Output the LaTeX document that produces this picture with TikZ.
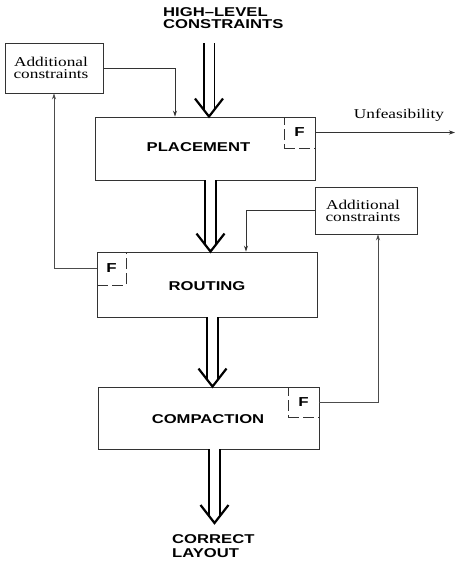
\documentclass[tikz,border=0pt]{standalone}
\usepackage{fontspec}
\newfontfamily\hbfont{Liberation Sans}[FakeStretch=1.3]
\newfontfamily\srfont{Liberation Serif}[FakeStretch=1.28]
\usetikzlibrary{arrows.meta}
\newcommand\dblarrow[2]{%
  \draw[dblshaft] (#1) -- ([yshift=7pt]#2);
  \draw[vtip] ([xshift=-14pt,yshift=18pt]#2) -- (#2) -- ([xshift=14pt,yshift=18pt]#2);}
\tikzset{
  box/.style={draw=black!80, line width=0.9pt, inner sep=0pt},
  fbox/.style={draw=black!80, line width=0.9pt, dash pattern=on 11pt off 4pt, inner sep=0pt,
    font=\hbfont\bfseries\fontsize{13}{13}\selectfont},
  bigtxt/.style={font=\hbfont\bfseries\fontsize{12.8}{12.5}\selectfont, inner sep=0pt},
  smalltxt/.style={font=\srfont\fontsize{13.5}{13}\selectfont, align=center, inner sep=0pt},
  conn/.style={draw=black!80, line width=0.9pt, -{Stealth[length=6pt,width=4pt]}},
  fback/.style={draw=black!70, line width=0.7pt, -{Stealth[length=6pt,width=4pt]}},
  dblshaft/.style={draw=black, double=white, double distance=9pt, line width=1.8pt},
  vtip/.style={draw=black, line width=2.2pt, line join=miter, line cap=butt},
}
\begin{document}
\begin{tikzpicture}[x=1pt,y=-1pt]
\useasboundingbox (0,0) rectangle (456,563);
% boxes
\node[box, minimum width=220pt, minimum height=63pt] (pl) at (205,148.5) {};
\node[box, minimum width=220pt, minimum height=65pt] (rt) at (207,284.5) {};
\node[box, minimum width=221pt, minimum height=62pt] (cp) at (208.5,418) {};
\node[box, minimum width=98pt, minimum height=50pt] (la) at (54,68) {};
\node[box, minimum width=102pt, minimum height=47pt] (ra) at (366,210.5) {};
% box texts
\node[smalltxt] (lat) at (51,68) {Additional\\[-1pt]constraints};
\node[smalltxt] (rat) at (363,210.5) {Additional\\[-1pt]constraints};
\node[bigtxt, anchor=base] (plt) at (198.5,151) {PLACEMENT};
\node[bigtxt, anchor=base] (rtt) at (207,290) {ROUTING};
\node[bigtxt, anchor=base] (cpt) at (208,423) {COMPACTION};
% F boxes
\node[fbox, anchor=north east, minimum width=31pt, minimum height=31pt] (plF) at (pl.north east) {F};
\node[fbox, anchor=north west, minimum width=29pt, minimum height=33pt] (rtF) at (rt.north west) {F};
\node[fbox, anchor=north east, minimum width=31pt, minimum height=30pt] (cpF) at (cp.north east) {F};
% top and bottom texts (base anchor = last line's baseline)
\node[bigtxt, anchor=base west, align=left] (hl) at (163,28.5) {HIGH–LEVEL\\CONSTRAINTS};
\node[bigtxt, anchor=base west, align=left] (cl) at (172,557) {CORRECT\\[1.5pt]LAYOUT};
% unfeasibility
\coordinate (unf) at (455,132);
\node[smalltxt, anchor=base] (unft) at (399,118) {Unfeasibility};
\draw[conn] (plF.east) -- (unf |- plF.east);
% thin connectors
\draw[conn] (la.east) -| ([xshift=-30pt]pl.north);
\draw[conn] (ra.west) -| ([xshift=39pt]rt.north);
\draw[fback] (rtF.west) -| (la.south);
\draw[fback] (cpF.east) -| ([xshift=12pt]ra.south);
% double arrows
\coordinate (a1) at (209,43);
\coordinate (a1e) at (a1 |- pl.north);
\dblarrow{a1}{a1e}
\coordinate (a2) at (210.5,180);
\coordinate (a2e) at (a2 |- rt.north);
\dblarrow{a2}{a2e}
\coordinate (a3) at (212.5,317);
\coordinate (a3e) at (a3 |- cp.north);
\dblarrow{a3}{a3e}
\coordinate (a4) at (214.5,449);
\coordinate (a4e) at (214.5,523);
\dblarrow{a4}{a4e}
\end{tikzpicture}
\end{document}
